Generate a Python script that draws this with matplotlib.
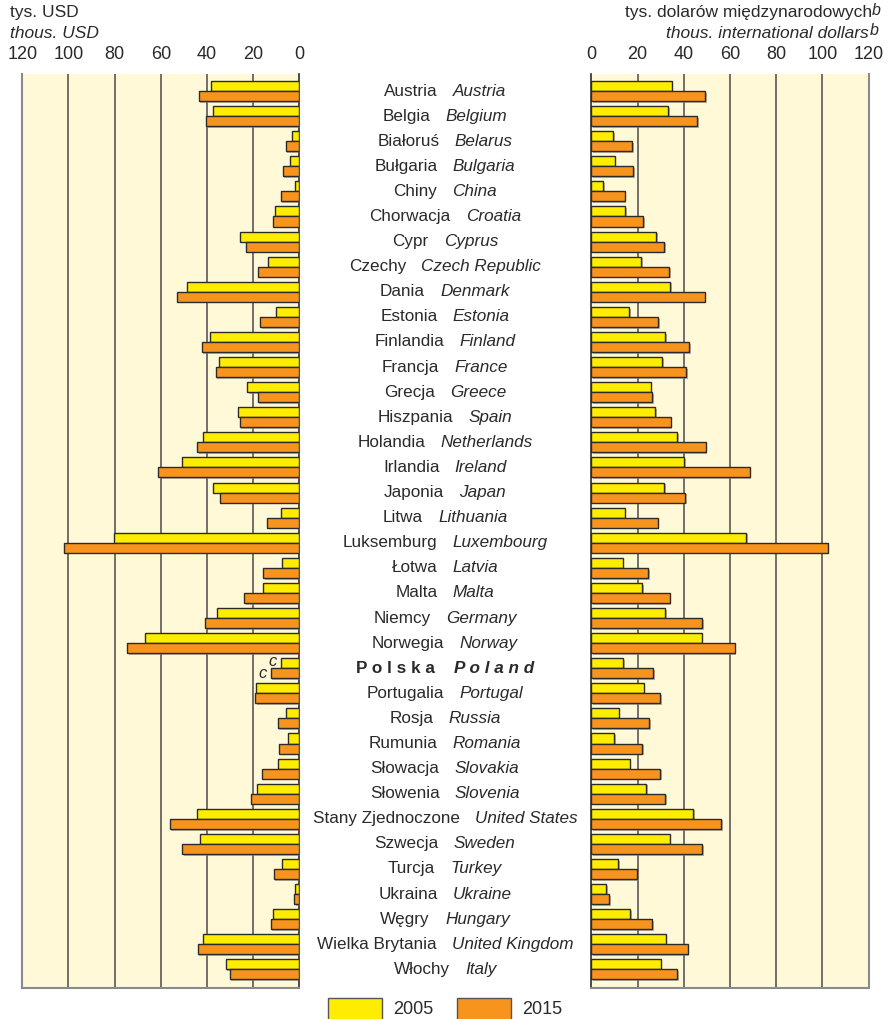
import matplotlib
matplotlib.use("Agg")
import matplotlib.pyplot as plt
from matplotlib.patches import Rectangle
from matplotlib.offsetbox import TextArea, HPacker, AnnotationBbox
from matplotlib.transforms import blended_transform_factory
import matplotlib.patheffects as pe

plt.rcParams['font.family'] = ['Liberation Sans', 'DejaVu Sans']

countries_pl = ["Austria", "Belgia", "Białoruś", "Bułgaria", "Chiny", "Chorwacja", "Cypr",
                "Czechy", "Dania", "Estonia", "Finlandia", "Francja", "Grecja", "Hiszpania",
                "Holandia", "Irlandia", "Japonia", "Litwa", "Luksemburg", "Łotwa", "Malta",
                "Niemcy", "Norwegia", "Polska", "Portugalia", "Rosja", "Rumunia", "Słowacja",
                "Słowenia", "Stany Zjednoczone", "Szwecja", "Turcja", "Ukraina", "Węgry",
                "Wielka Brytania", "Włochy"]
countries_en = ["Austria", "Belgium", "Belarus", "Bulgaria", "China", "Croatia", "Cyprus",
                "Czech Republic", "Denmark", "Estonia", "Finland", "France", "Greece", "Spain",
                "Netherlands", "Ireland", "Japan", "Lithuania", "Luxembourg", "Latvia", "Malta",
                "Germany", "Norway", "Poland", "Portugal", "Russia", "Romania", "Slovakia",
                "Slovenia", "United States", "Sweden", "Turkey", "Ukraine", "Hungary",
                "United Kingdom", "Italy"]

usd_2005 = [38.3, 37.3, 3.3, 3.9, 1.7, 10.5, 25.6, 13.4, 48.8, 10.3, 38.8, 34.9, 22.5, 26.4,
            41.6, 50.8, 37.3, 7.9, 80.3, 7.5, 15.9, 35.5, 66.7, 8.1, 18.9, 5.8, 4.8, 9.1,
            18.2, 44.2, 43.2, 7.5, 2.0, 11.3, 41.6, 31.9]
usd_2015 = [43.6, 40.6, 5.9, 7.2, 8.1, 11.6, 23.2, 17.8, 52.9, 17.0, 42.3, 36.2, 18.1, 25.8,
            44.3, 61.2, 34.5, 14.2, 102.1, 15.6, 23.8, 41.0, 74.5, 12.4, 19.1, 9.4, 9.0, 16.0,
            20.8, 56.2, 50.7, 11.1, 2.2, 12.4, 44.0, 30.2]
ppp_2005 = [34.8, 33.3, 9.5, 10.1, 5.1, 14.7, 28.1, 21.6, 34.2, 16.5, 32.0, 30.7, 25.7, 27.7,
            37.2, 40.3, 31.6, 14.4, 67.0, 13.6, 22.1, 31.9, 47.8, 13.9, 22.7, 11.8, 9.8, 16.6,
            23.8, 44.2, 33.9, 11.5, 6.3, 16.9, 32.2, 30.0]
ppp_2015 = [49.4, 45.7, 17.7, 18.2, 14.4, 22.5, 31.6, 33.6, 49.1, 29.0, 42.3, 41.0, 26.3, 34.3,
            49.5, 68.5, 40.7, 28.7, 102.2, 24.7, 33.9, 48.1, 62.0, 26.8, 29.7, 25.1, 22.1, 29.9,
            32.0, 56.1, 47.9, 19.9, 7.8, 26.4, 41.7, 37.2]
years = ["2005", "2015"]
ticks = [0, 20, 40, 60, 80, 100, 120]

YELLOW = "#FFED00"
ORANGE = "#F7941E"
BG = "#FFF9D8"
GRID = "#4a4a4a"
TXT = "#2a2a2a"
EDGE = "#2b2b2b"

W, H = 889, 1019
fig = plt.figure(figsize=(W / 100, H / 100), dpi=100)

ax_top_px, ax_bot_px = 73.7, 987.7
ay = (H - ax_bot_px) / H
ah = (ax_bot_px - ax_top_px) / H
axL = fig.add_axes([22.3 / W, ay, 277.0 / W, ah])
axR = fig.add_axes([591.3 / W, ay, 277.4 / W, ah])

n = len(countries_pl)
ypos = list(range(n))
shadow = [pe.SimplePatchShadow(offset=(1.2, -1.2), shadow_rgbFace="#888888", alpha=0.6), pe.Normal()]

for ax, v05, v15, xl in [(axL, usd_2005, usd_2015, (120, 0)), (axR, ppp_2005, ppp_2015, (0, 120))]:
    ax.set_facecolor(BG)
    for t in [20, 40, 60, 80, 100]:
        ax.axvline(t, color=GRID, lw=1.1, zorder=1)
    b1 = ax.barh([y - 0.2 for y in ypos], v05, height=0.4, color=YELLOW, edgecolor=EDGE, lw=1, zorder=3)
    b2 = ax.barh([y + 0.2 for y in ypos], v15, height=0.4, color=ORANGE, edgecolor=EDGE, lw=1, zorder=3)
    for b in list(b1) + list(b2):
        b.set_path_effects(shadow)
    ax.set_xlim(*xl)
    ax.set_ylim(n - 1 + 0.73, -0.69)
    ax.set_yticks([])
    ax.xaxis.tick_top()
    ax.set_xticks(ticks)
    ax.set_xticklabels([str(t) for t in ticks])
    ax.tick_params(axis='x', length=0, pad=7.5, labelsize=13, labelcolor=TXT)
    ax.spines['top'].set_visible(False)
    for s in ['left', 'right', 'bottom']:
        ax.spines[s].set_color("#8a8a8a")
        ax.spines[s].set_linewidth(1.5)

axL.spines['right'].set_color(EDGE)
axL.spines['right'].set_linewidth(1.2)
axR.spines['left'].set_color(EDGE)
axR.spines['left'].set_linewidth(1.2)

# footnote markers for Poland
ip = countries_en.index("Poland")
axL.annotate("c", xy=(usd_2005[ip], ip - 0.2), xytext=(-2.5, 1.5), textcoords='offset points',
             ha='right', va='center', fontsize=12, style='italic', color=TXT)
axL.annotate("c", xy=(usd_2015[ip], ip + 0.2), xytext=(-2.5, 0), textcoords='offset points',
             ha='right', va='center', fontsize=12, style='italic', color=TXT)

# central country labels
FS = 12.3
tr = blended_transform_factory(fig.transFigure, axL.transData)
for i, (pl, en) in enumerate(zip(countries_pl, countries_en)):
    if en == "Poland":
        t1 = TextArea(" ".join(pl), textprops=dict(fontsize=FS, color=TXT, fontweight='bold'))
        t2 = TextArea(" ".join(en), textprops=dict(fontsize=FS, color=TXT, fontweight='bold', style='italic'))
        sep = 14
    else:
        t1 = TextArea(pl, textprops=dict(fontsize=FS, color=TXT))
        t2 = TextArea(en, textprops=dict(fontsize=FS, color=TXT, style='italic'))
        sep = 11
    pack = HPacker(children=[t1, t2], sep=sep, pad=0, align='baseline')
    ab = AnnotationBbox(pack, (445 / W, i), xycoords=tr, frameon=False,
                        box_alignment=(0.5, 0.5), pad=0)
    fig.add_artist(ab)

# header texts
HF = 12.5
fig.text(10 / W, 1 - 13 / H, "tys. USD", fontsize=HF, color=TXT, ha='left', va='center')
fig.text(10 / W, 1 - 33 / H, "thous. USD", fontsize=HF, color=TXT, ha='left', va='center', style='italic')
fig.text(872 / W, 1 - 13 / H, "tys. dolarów międzynarodowych", fontsize=HF, color=TXT,
         ha='right', va='center')
fig.text(869 / W, 1 - 33 / H, "thous. international dollars", fontsize=HF, color=TXT,
         ha='right', va='center', style='italic')
fig.text(881 / W, 1 - 3 / H, "b", fontsize=11.5, color=TXT, ha='right', va='top', style='italic')
fig.text(879 / W, 1 - 23 / H, "b", fontsize=11.5, color=TXT, ha='right', va='top', style='italic')

# legend
for x0, col, lab, tx in [(328, YELLOW, years[0], 393), (457, ORANGE, years[1], 522)]:
    fig.add_artist(Rectangle((x0 / W, -2 / H), 54 / W, (H - 997.7 + 2) / H, transform=fig.transFigure,
                             facecolor=col, edgecolor="#555555", lw=1))
    fig.text(tx / W, 1 - 1009.5 / H, lab, fontsize=13, color=TXT, ha='left', va='center')

fig.savefig("out.png", dpi=100)
